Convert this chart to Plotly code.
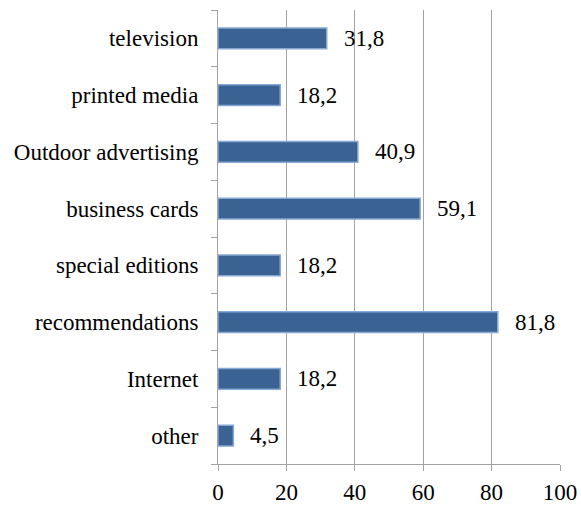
import plotly.graph_objects as go

categories = ["television", "printed media", "Outdoor advertising", "business cards",
              "special editions", "recommendations", "Internet", "other"]
values = [31.8, 18.2, 40.9, 59.1, 18.2, 81.8, 18.2, 4.5]
x_ticks = [0, 20, 40, 60, 80, 100]

cats_rev = categories[::-1]
vals_rev = values[::-1]

FONT = "Liberation Serif, Times New Roman, serif"
FS = 23

fig = go.Figure()
fig.add_trace(go.Bar(
    x=vals_rev, y=cats_rev, orientation="h",
    marker=dict(color="#3A6393", line=dict(color="#86A8D4", width=1.5)),
    width=0.37,
))

for c, v in zip(cats_rev, vals_rev):
    fig.add_annotation(x=v, y=c, text=f"{v:.1f}".replace(".", ","),
                       showarrow=False, xanchor="left", xshift=15,
                       font=dict(family=FONT, size=FS, color="#000"))

fig.update_layout(
    width=581, height=506,
    margin=dict(l=218, r=21, t=10, b=42, autoexpand=False),
    plot_bgcolor="white", paper_bgcolor="white",
    showlegend=False,
    font=dict(family=FONT, size=FS, color="#000"),
    separators=",.",
)
fig.update_xaxes(range=[0, 100], tickvals=x_ticks, showgrid=True, gridcolor="#A3A3A3",
                 gridwidth=1, showline=True, linecolor="#A3A3A3", ticks="outside",
                 tickcolor="#A3A3A3", ticklen=6, zeroline=False, automargin=False,
                 tickfont=dict(family=FONT, size=FS), ticklabelstandoff=1)
fig.update_yaxes(showline=True, linecolor="#A3A3A3", ticks="outside", tickson="boundaries",
                 tickcolor="#A3A3A3", ticklen=6, showgrid=False, automargin=False,
                 tickfont=dict(family=FONT, size=FS),
                 categoryorder="array", categoryarray=cats_rev, ticklabelstandoff=14)

fig.write_html("out.html")
